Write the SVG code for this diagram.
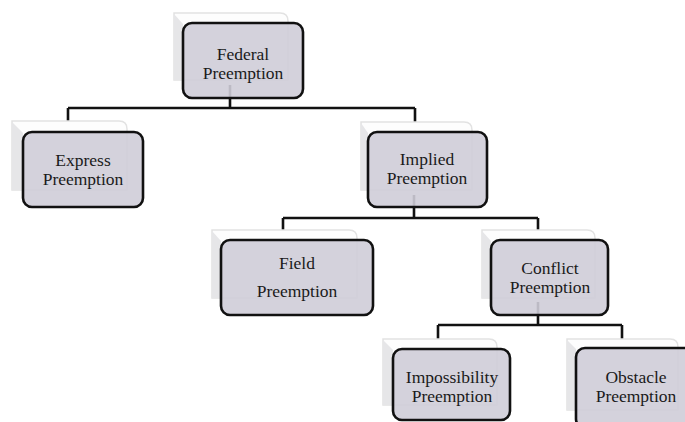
<svg xmlns="http://www.w3.org/2000/svg" width="685" height="422" viewBox="0 0 685 422">
<defs>
<style>
.bg{fill:#ffffff}
.sh{fill:#fdfdfd;stroke:#e2e2e2;stroke-width:1.5}
.side{fill:#e6e6e8}
.box{fill:#cfcdd8;fill-opacity:0.9;stroke:#111;stroke-width:2.6}
.t{font-family:"Liberation Serif","Times New Roman",serif;font-size:17.5px;fill:#1a1a1a;text-anchor:middle}
.c{fill:none;stroke:#111;stroke-width:2.6}
</style>
</defs>
<rect class="bg" x="0" y="0" width="685" height="422"/>
<g id="connectors">
<path class="c" d="M230 85 V108 M68 108 H415 M68 108 V122 M415 108 V122"/>
<path class="c" d="M414 195 V218 M283 218 H538 M283 218 V231 M538 218 V231"/>
<path class="c" d="M538 302 V325 M438 325 H622 M438 325 V340 M622 325 V340"/>
</g>
<g id="federal">
<path class="sh" d="M174 13 H280 Q288 13 288 21 V80 H174 Z"/>
<polygon class="side" points="174,14 183,24 183,80 174,80"/>
<rect class="box" x="183" y="23" width="120" height="75" rx="9"/>
<text class="t" x="243" y="59.5">Federal</text>
<text class="t" x="243" y="78.5">Preemption</text>
</g>
<g id="express">
<path class="sh" d="M12 121 H119 Q127 121 127 129 V190 H12 Z"/>
<polygon class="side" points="12,122 23,133 23,190 12,190"/>
<rect class="box" x="23" y="132" width="120" height="75" rx="9"/>
<text class="t" x="83" y="165.5">Express</text>
<text class="t" x="83" y="184.5">Preemption</text>
</g>
<g id="implied">
<path class="sh" d="M361 122 H464 Q472 122 472 130 V190 H361 Z"/>
<polygon class="side" points="361,123 368,133 368,190 361,190"/>
<rect class="box" x="368" y="132" width="119" height="75" rx="9"/>
<text class="t" x="427" y="165">Implied</text>
<text class="t" x="427" y="184">Preemption</text>
</g>
<g id="field">
<path class="sh" d="M212 230 H349 Q357 230 357 238 V298 H212 Z"/>
<polygon class="side" points="212,231 221,241 221,298 212,298"/>
<rect class="box" x="221" y="240" width="152" height="75" rx="9"/>
<text class="t" x="297" y="269">Field</text>
<text class="t" x="297" y="297">Preemption</text>
</g>
<g id="conflict">
<path class="sh" d="M482 230 H587 Q595 230 595 238 V298 H482 Z"/>
<polygon class="side" points="482,231 491,241 491,298 482,298"/>
<rect class="box" x="491" y="240" width="117" height="75" rx="9"/>
<text class="t" x="550" y="274">Conflict</text>
<text class="t" x="550" y="293">Preemption</text>
</g>
<g id="impossibility">
<path class="sh" d="M383 339 H489 Q497 339 497 347 V405 H383 Z"/>
<polygon class="side" points="383,340 393,350 393,405 383,405"/>
<rect class="box" x="393" y="349" width="117" height="71" rx="9"/>
<text class="t" x="452" y="382.5">Impossibility</text>
<text class="t" x="452" y="401.5">Preemption</text>
</g>
<g id="obstacle">
<path class="sh" d="M567 339 H670 Q678 339 678 347 V410 H567 Z"/>
<polygon class="side" points="567,340 576,349 576,410 567,410"/>
<rect class="box" x="576" y="348" width="120" height="80" rx="9"/>
<text class="t" x="636" y="382.5">Obstacle</text>
<text class="t" x="636" y="401.5">Preemption</text>
</g>
</svg>
